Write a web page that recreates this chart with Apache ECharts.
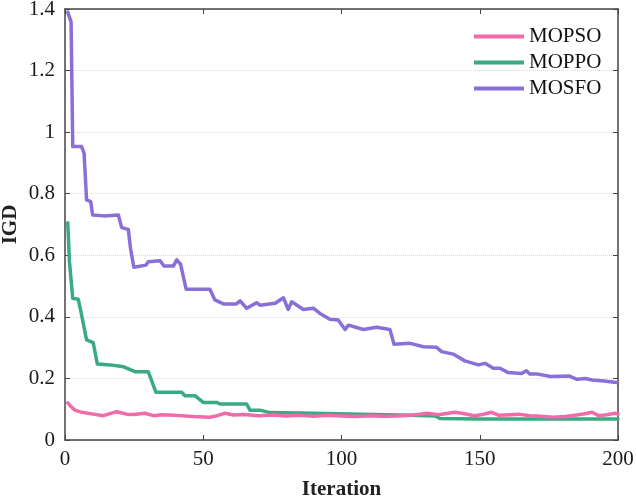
<!DOCTYPE html>
<html>
<head>
<meta charset="utf-8">
<script src="https://cdn.jsdelivr.net/npm/echarts@6/dist/echarts.min.js"></script>
<style>
  html, body { margin: 0; padding: 0; background: #fff; }
  #chart { width: 636px; height: 501px; }
</style>
</head>
<body>
<div id="chart"></div>
<script>
// 数据
const xTicks = [0, 50, 100, 150, 200];
const yTicks = [0, 0.2, 0.4, 0.6, 0.8, 1, 1.2, 1.4];

const mopsoIter = [1, 2, 3.6, 6, 10.2, 13.9, 16, 18.7, 22.3, 25, 28.9, 32, 35, 40, 46.4, 52.4, 55, 57.9, 61, 65, 70, 75, 80, 85, 90, 95, 100, 105, 110, 115, 120, 125, 130.8, 135, 138, 141, 144, 148, 151, 154.3, 157, 161, 164, 168, 172, 176.6, 181, 185, 188, 190.6, 193, 196, 198.9, 200];
const mopsoIGD = [0.121, 0.11, 0.097, 0.09, 0.084, 0.079, 0.085, 0.092, 0.084, 0.083, 0.087, 0.079, 0.082, 0.08, 0.076, 0.074, 0.079, 0.087, 0.081, 0.083, 0.079, 0.081, 0.078, 0.08, 0.077, 0.08, 0.078, 0.076, 0.079, 0.077, 0.078, 0.08, 0.087, 0.082, 0.086, 0.09, 0.086, 0.079, 0.083, 0.09, 0.08, 0.082, 0.084, 0.079, 0.077, 0.074, 0.076, 0.081, 0.085, 0.09, 0.079, 0.082, 0.087, 0.084];

const moppoIter = [1, 1.6, 2.8, 4.8, 6, 7.8, 10.2, 11.7, 16.3, 21.1, 22.9, 25.3, 30.1, 32.9, 42.2, 43.4, 47, 50, 54.9, 56.1, 65.7, 66.9, 70.5, 74.1, 90, 111.5, 125, 134, 135.6, 150, 200];
const moppoIGD = [0.706, 0.58, 0.46, 0.457, 0.406, 0.325, 0.316, 0.247, 0.244, 0.238, 0.231, 0.222, 0.222, 0.155, 0.155, 0.144, 0.144, 0.122, 0.122, 0.117, 0.117, 0.097, 0.097, 0.089, 0.087, 0.083, 0.08, 0.078, 0.07, 0.068, 0.068];

const mosfoIter = [1, 2.2, 2.8, 6, 6.9, 7.8, 9.3, 10, 14, 19.3, 20.5, 22.9, 23.7, 24.9, 29.3, 30.1, 34.4, 35.8, 39.2, 40.4, 41.8, 43.8, 52.4, 54.2, 57.3, 62, 63.3, 65.7, 69.3, 70.5, 76, 79, 80.7, 82, 86.2, 89.8, 92.2, 95.8, 98.8, 101.3, 102.5, 107.9, 112.7, 117.5, 119, 124.8, 129.6, 134.4, 136.2, 140.4, 144.6, 149.5, 151.9, 154.9, 157.3, 160.3, 165.1, 166.9, 168.1, 171, 175.6, 182.2, 185.2, 188.2, 190.6, 195, 199.5];
const mosfoIGD = [1.39, 1.358, 0.953, 0.953, 0.932, 0.78, 0.774, 0.731, 0.728, 0.731, 0.69, 0.684, 0.622, 0.561, 0.568, 0.579, 0.582, 0.565, 0.565, 0.585, 0.571, 0.49, 0.49, 0.455, 0.442, 0.442, 0.452, 0.428, 0.446, 0.438, 0.444, 0.462, 0.424, 0.449, 0.424, 0.428, 0.411, 0.392, 0.39, 0.359, 0.373, 0.359, 0.366, 0.359, 0.311, 0.314, 0.303, 0.301, 0.287, 0.279, 0.257, 0.244, 0.249, 0.233, 0.233, 0.219, 0.216, 0.225, 0.214, 0.214, 0.206, 0.208, 0.197, 0.2, 0.195, 0.192, 0.187];

const zip = (xs, ys) => xs.map((x, i) => [x, ys[i]]);

const font = "'Liberation Serif', 'Times New Roman', serif";
const axisColor = '#444';

const baseAxis = {
  type: 'value',
  axisLine: { show: true, onZero: false, lineStyle: { color: axisColor, width: 1.5 } },
  axisTick: { show: true, inside: true, length: 5, lineStyle: { color: axisColor } },
  splitLine: { show: false }
};

const chart = echarts.init(document.getElementById('chart'));
chart.setOption({
  animation: false,
  backgroundColor: '#fff',
  grid: { left: 65, right: 18, top: 9, bottom: 61, containLabel: false, outerBoundsMode: 'none' },
  legend: {
    orient: 'vertical',
    left: 474,
    top: 26,
    padding: 0,
    itemWidth: 50,
    itemHeight: 4,
    itemGap: 5,
    icon: 'rect',
    textStyle: { fontFamily: font, fontSize: 21, color: '#111', lineHeight: 20 },
    data: ['MOPSO', 'MOPPO', 'MOSFO']
  },
  xAxis: [
    Object.assign({}, baseAxis, {
      min: 0, max: 200, interval: 50,
      name: 'Iteration', nameLocation: 'middle', nameGap: 39, nameMoveOverlap: false,
      nameTextStyle: { fontFamily: font, fontSize: 21, fontWeight: 'bold', color: '#222' },
      axisLabel: { fontFamily: font, fontSize: 21, color: '#1a1a1a', margin: 9 }
    }),
    Object.assign({}, baseAxis, {
      position: 'top', min: 0, max: 200, interval: 50,
      axisLabel: { show: false }
    })
  ],
  yAxis: [
    Object.assign({}, baseAxis, {
      min: 0, max: 1.4, interval: 0.2,
      name: 'IGD', nameLocation: 'middle', nameGap: 44, nameMoveOverlap: false,
      nameTextStyle: { fontFamily: font, fontSize: 21, fontWeight: 'bold', color: '#222' },
      axisLabel: { fontFamily: font, fontSize: 21, color: '#1a1a1a', margin: 10 },
      splitLine: { show: true, lineStyle: { color: '#dadada', type: 'dotted', width: 1 } }
    }),
    Object.assign({}, baseAxis, {
      position: 'right', min: 0, max: 1.4, interval: 0.2,
      axisLabel: { show: false }
    })
  ],
  series: [
    {
      name: 'MOPSO', type: 'line', showSymbol: false, symbol: 'none',
      data: zip(mopsoIter, mopsoIGD),
      lineStyle: { width: 3.5, color: '#ef6bab', join: 'round', cap: 'round' }, itemStyle: { color: '#ef6bab' }, z: 3
    },
    {
      name: 'MOPPO', type: 'line', showSymbol: false, symbol: 'none',
      data: zip(moppoIter, moppoIGD),
      lineStyle: { width: 3.5, color: '#3aaa82', join: 'round', cap: 'round' }, itemStyle: { color: '#3aaa82' }, z: 2
    },
    {
      name: 'MOSFO', type: 'line', showSymbol: false, symbol: 'none',
      data: zip(mosfoIter, mosfoIGD),
      lineStyle: { width: 3.5, color: '#8b6fd8', join: 'round', cap: 'round' }, itemStyle: { color: '#8b6fd8' }, z: 4
    }
  ]
});
</script>
</body>
</html>
